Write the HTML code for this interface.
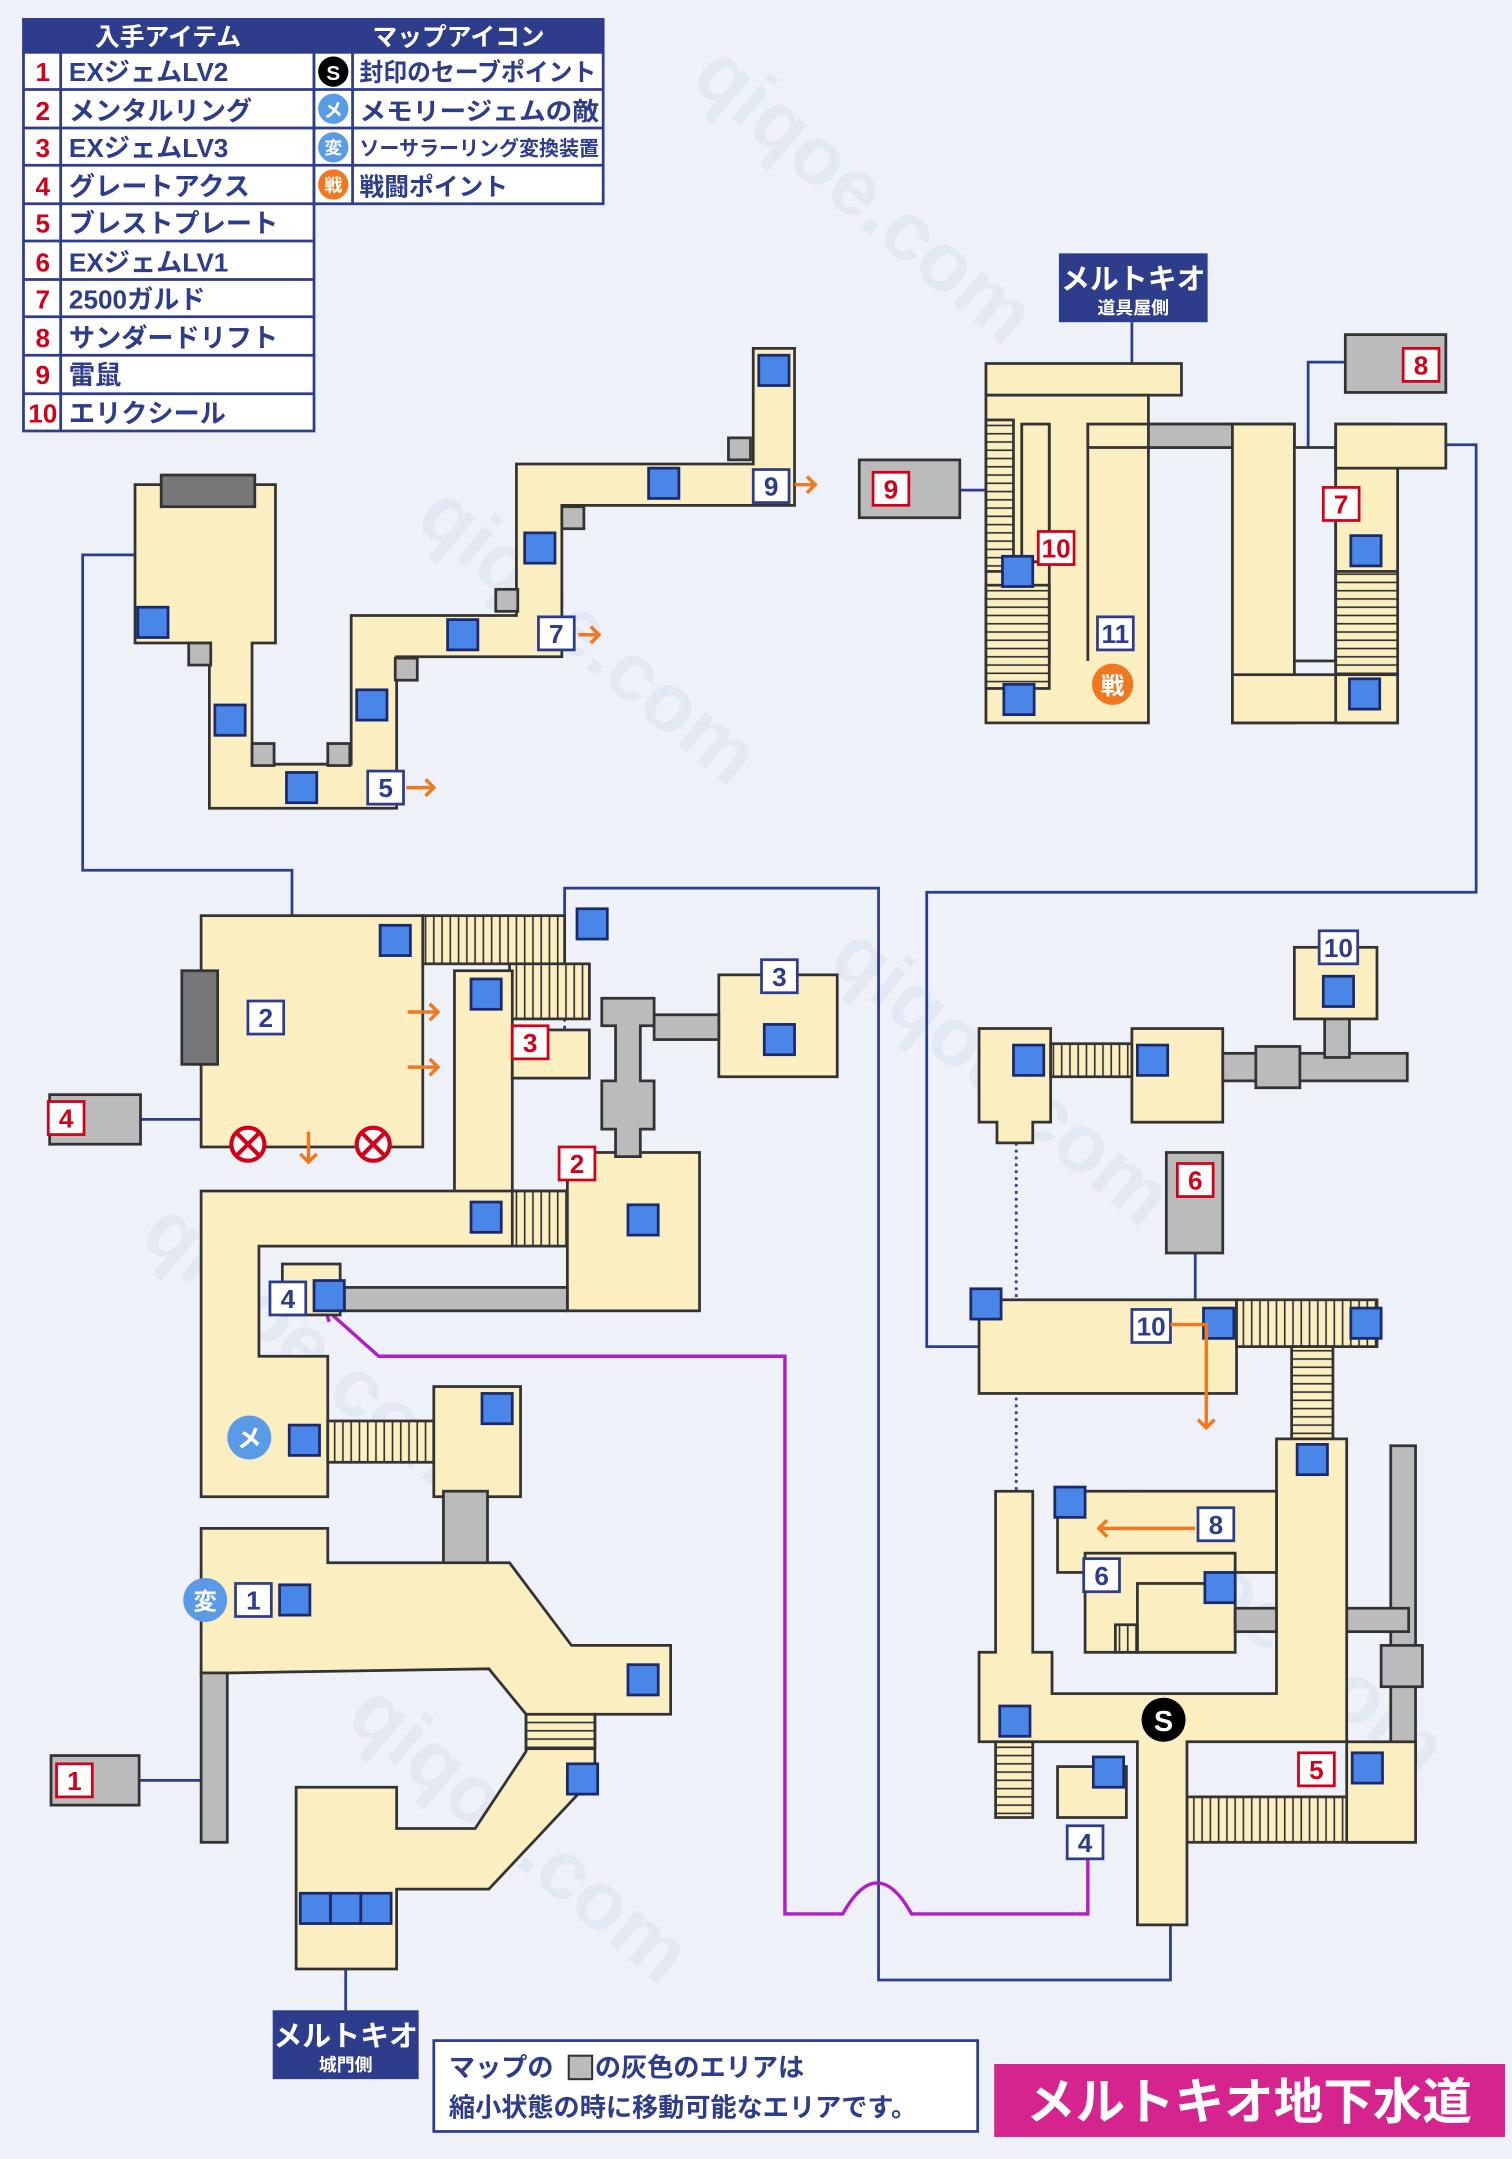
<!DOCTYPE html>
<html><head><meta charset="utf-8"><style>
html,body{margin:0;padding:0;background:#eef2f8}
svg{display:block}
text{font-family:"Liberation Sans","Noto Sans CJK JP",sans-serif;font-weight:bold}
</style></head><body>
<svg width="1512" height="2159" viewBox="0 0 1098 1568" xmlns="http://www.w3.org/2000/svg">
<defs>
<g id="bs"><rect x="-11" y="-11" width="22" height="22" fill="#4a86e8" stroke="#1a2a6c" stroke-width="2"/></g>
<pattern id="st" width="6" height="6" patternUnits="userSpaceOnUse"><rect width="6" height="6" fill="#fbeec0"/><line x1="3" y1="0" x2="3" y2="6" stroke="#333" stroke-width="1.2"/></pattern>
<pattern id="sth" width="6" height="6" patternUnits="userSpaceOnUse"><rect width="6" height="6" fill="#fbeec0"/><line x1="0" y1="3" x2="6" y2="3" stroke="#333" stroke-width="1.2"/></pattern>
</defs>
<rect width="1098" height="1568" fill="#eef2f8"/>
<g fill="#dde3ee" font-size="60" opacity="0.6"><text x="500" y="60" transform="rotate(40 500 60)">qiqoe.com</text><text x="300" y="380" transform="rotate(40 300 380)">qiqoe.com</text><text x="600" y="700" transform="rotate(40 600 700)">qiqoe.com</text><text x="100" y="900" transform="rotate(40 100 900)">qiqoe.com</text><text x="800" y="1100" transform="rotate(40 800 1100)">qiqoe.com</text><text x="250" y="1250" transform="rotate(40 250 1250)">qiqoe.com</text></g>

<!-- legend -->
<g stroke="#2e3c8c" stroke-width="2">
<rect x="17" y="14" width="421" height="24" fill="#2e3c8c"/>
<rect x="17" y="38" width="211" height="275" fill="#fff"/>
<rect x="228" y="38" width="210" height="110" fill="#fff"/>
<line x1="44" y1="38" x2="44" y2="313"/>
<g>
<line x1="17" y1="65" x2="438" y2="65"/><line x1="17" y1="93" x2="438" y2="93"/><line x1="17" y1="120" x2="438" y2="120"/>
<line x1="17" y1="148" x2="228" y2="148"/><line x1="17" y1="175" x2="228" y2="175"/><line x1="17" y1="203" x2="228" y2="203"/><line x1="17" y1="230" x2="228" y2="230"/><line x1="17" y1="258" x2="228" y2="258"/><line x1="17" y1="286" x2="228" y2="286"/>
</g>
<line x1="256" y1="38" x2="256" y2="148"/>
</g>
<text x="122" y="33" fill="#fff" font-size="18" text-anchor="middle">入手アイテム</text>
<text x="333" y="33" fill="#fff" font-size="18" text-anchor="middle">マップアイコン</text>
<g fill="#d0021b" font-size="19" text-anchor="middle">
<text x="31" y="59">1</text><text x="31" y="87">2</text><text x="31" y="114">3</text><text x="31" y="142">4</text><text x="31" y="169">5</text><text x="31" y="197">6</text><text x="31" y="224">7</text><text x="31" y="252">8</text><text x="31" y="279">9</text><text x="31" y="307">10</text></g>
<g fill="#2e3c8c" font-size="19">
<text x="50" y="59">EXジェムLV2</text><text x="50" y="87">メンタルリング</text><text x="50" y="114">EXジェムLV3</text><text x="50" y="142">グレートアクス</text><text x="50" y="169">ブレストプレート</text><text x="50" y="197">EXジェムLV1</text><text x="50" y="224">2500ガルド</text><text x="50" y="252">サンダードリフト</text><text x="50" y="279">雷鼠</text><text x="50" y="307">エリクシール</text>
<text x="261" y="59" font-size="18" textLength="172" lengthAdjust="spacingAndGlyphs">封印のセーブポイント</text><text x="261" y="87" font-size="18" textLength="174" lengthAdjust="spacingAndGlyphs">メモリージェムの敵</text><text x="261" y="113" font-size="15" textLength="174" lengthAdjust="spacingAndGlyphs">ソーサラーリング変換装置</text><text x="261" y="142" font-size="18">戦闘ポイント</text></g>
<circle cx="242" cy="52" r="11" fill="#000"/><text x="242" y="58" fill="#fff" font-size="15" text-anchor="middle">S</text>
<circle cx="242" cy="79" r="11" fill="#5a9be8"/><text x="242" y="85" fill="#fff" font-size="14" text-anchor="middle">メ</text>
<circle cx="242" cy="107" r="11" fill="#5a9be8"/><text x="242" y="112" fill="#fff" font-size="13" text-anchor="middle">変</text>
<circle cx="242" cy="134" r="11" fill="#f07820"/><text x="242" y="139" fill="#fff" font-size="13" text-anchor="middle">戦</text>

<!-- connector lines -->
<g fill="none" stroke="#2e3c8c" stroke-width="2">
<polyline points="110,403 60,403 60,632 212,632 212,682"/>
<polyline points="410,705 410,645 638,645 638,1438 850,1438 850,1398"/>
<polyline points="1030,323 1072,323 1072,648 673,648 673,978 711,978"/>
<line x1="86" y1="813" x2="150" y2="813"/>
<line x1="100" y1="1293" x2="150" y2="1293"/>
<line x1="679" y1="356" x2="802" y2="356"/>
<polyline points="992,263 950,263 950,370 930,370"/>
<line x1="822" y1="234" x2="822" y2="273"/>
<line x1="251" y1="1430" x2="251" y2="1462"/>
<line x1="868" y1="905" x2="868" y2="950"/>
</g>
<g fill="none" stroke="#2e3c8c" stroke-width="2" stroke-dasharray="2,3">
<line x1="410" y1="680" x2="410" y2="760"/>
<line x1="738" y1="815" x2="738" y2="1100"/>
</g>
<path d="M238,952 L275,985 L570,985 L570,1390 L612,1390 Q637,1345 662,1390 L790,1390 L790,1350" fill="none" stroke="#b01ec8" stroke-width="2.5"/>
<path d="M236,950 l10,2 M236,950 l3,10" stroke="#b01ec8" stroke-width="2.5"/>

<g stroke="#333" stroke-width="2">
<!-- top-left map -->
<polygon points="98,352 200,352 200,467 183,467 183,555 255,555 255,447 375,447 375,337 547,337 547,253 577,253 577,367 408,367 408,477 288,477 288,587 152,587 152,467 98,467" fill="#fbeec0"/>
<rect x="117" y="345" width="68" height="23" fill="#777"/>
<g fill="#bbb"><rect x="137" y="467" width="16" height="16"/><rect x="183" y="540" width="16" height="16"/><rect x="238" y="540" width="16" height="16"/><rect x="287" y="478" width="16" height="16"/><rect x="360" y="428" width="16" height="16"/><rect x="408" y="368" width="16" height="16"/><rect x="529" y="318" width="16" height="16"/></g>

<!-- top-right map -->
<rect x="716" y="264" width="142" height="23" fill="#fbeec0"/>
<rect x="716" y="287" width="118" height="238" fill="#fbeec0"/>
<rect x="716" y="305" width="20" height="110" fill="url(#sth)"/>
<rect x="716" y="425" width="46" height="75" fill="url(#sth)"/>
<rect x="742" y="308" width="20" height="100" fill="#fbeec0"/>
<line x1="790" y1="308" x2="790" y2="480"/><line x1="762" y1="308" x2="762" y2="480"/>
<rect x="790" y="308" width="150" height="17" fill="#fbeec0"/>
<rect x="834" y="308" width="61" height="17" fill="#bbb"/>
<rect x="895" y="308" width="45" height="217" fill="#fbeec0"/>
<rect x="895" y="490" width="120" height="35" fill="#fbeec0"/>
<rect x="940" y="325" width="30" height="155" fill="#eef2f8"/>
<rect x="970" y="308" width="45" height="217" fill="#fbeec0"/>
<rect x="970" y="308" width="80" height="32" fill="#fbeec0"/>
<rect x="970" y="415" width="45" height="75" fill="url(#sth)"/>
<rect x="624" y="334" width="73" height="42" fill="#bbb"/>
<rect x="977" y="243" width="73" height="42" fill="#bbb"/>

<!-- mid-left -->
<rect x="146" y="665" width="161" height="168" fill="#fbeec0"/>
<rect x="132" y="705" width="26" height="68" fill="#777"/>
<rect x="307" y="665" width="103" height="35" fill="url(#st)"/>
<rect x="370" y="700" width="58" height="40" fill="url(#st)"/>
<rect x="330" y="705" width="42" height="165" fill="#fbeec0"/>
<rect x="372" y="748" width="56" height="35" fill="#fbeec0"/>
<polygon points="146,865 412,865 412,905 188,905 188,985 238,985 238,1087 146,1087" fill="#fbeec0"/>
<rect x="372" y="865" width="80" height="40" fill="url(#st)"/>
<rect x="412" y="837" width="96" height="115" fill="#fbeec0"/>
<rect x="250" y="935" width="162" height="17" fill="#bbb"/>
<rect x="205" y="918" width="42" height="37" fill="#fbeec0"/>
<rect x="238" y="1032" width="77" height="30" fill="url(#st)"/>
<rect x="315" y="1007" width="63" height="80" fill="#fbeec0"/>
<rect x="322" y="1083" width="32" height="57" fill="#bbb"/>
<rect x="522" y="708" width="86" height="74" fill="#fbeec0"/>
<rect x="475" y="737" width="47" height="18" fill="#bbb"/>
<polygon points="437,725 475,725 475,745 465,745 465,785 475,785 475,820 465,820 465,840 447,840 447,820 437,820 437,785 447,785 447,745 437,745" fill="#bbb"/>
<rect x="36" y="795" width="66" height="36" fill="#bbb"/>

<!-- lower-left -->
<polygon points="146,1110 238,1110 238,1135 370,1135 415,1195 487,1195 487,1245 432,1245 432,1290 355,1372 288,1372 288,1430 215,1430 215,1298 288,1298 288,1328 345,1328 382,1272 382,1245 355,1212 165,1215 146,1215" fill="#fbeec0"/>
<rect x="382" y="1245" width="50" height="25" fill="url(#sth)"/>
<rect x="146" y="1215" width="19" height="123" fill="#bbb"/>
<rect x="37" y="1275" width="64" height="36" fill="#bbb"/>

<!-- right top -->
<polygon points="711,747 763,747 763,815 750,815 750,830 724,830 724,815 711,815" fill="#fbeec0"/>
<rect x="763" y="758" width="59" height="24" fill="url(#st)"/>
<rect x="822" y="747" width="66" height="68" fill="#fbeec0"/>
<rect x="888" y="765" width="134" height="20" fill="#bbb"/>
<rect x="912" y="760" width="32" height="30" fill="#bbb"/>
<rect x="962" y="738" width="18" height="30" fill="#bbb"/>
<rect x="940" y="688" width="60" height="52" fill="#fbeec0"/>
<rect x="847" y="837" width="41" height="73" fill="#bbb"/>
<rect x="711" y="944" width="187" height="68" fill="#fbeec0"/>
<rect x="898" y="944" width="102" height="34" fill="url(#st)"/>
<rect x="938" y="978" width="30" height="67" fill="url(#sth)"/>

<!-- right bottom -->
<rect x="1010" y="1050" width="18" height="230" fill="#bbb"/>
<rect x="978" y="1168" width="45" height="17" fill="#bbb"/>
<rect x="1003" y="1195" width="30" height="30" fill="#bbb"/>
<rect x="862" y="1305" width="166" height="33" fill="url(#st)"/>
<rect x="978" y="1265" width="50" height="73" fill="#fbeec0"/>
<polygon points="723,1083 750,1083 750,1200 764,1200 764,1230 927,1230 927,1045 978,1045 978,1265 862,1265 862,1398 826,1398 826,1265 711,1265 711,1200 723,1200" fill="#fbeec0"/>
<rect x="768" y="1083" width="159" height="59" fill="#fbeec0"/>
<rect x="788" y="1128" width="109" height="72" fill="#fbeec0"/>
<rect x="826" y="1150" width="71" height="50" fill="#fbeec0"/>
<rect x="897" y="1168" width="30" height="17" fill="#bbb"/>
<rect x="810" y="1180" width="16" height="20" fill="url(#st)"/>
<rect x="723" y="1265" width="27" height="55" fill="url(#sth)"/>
<rect x="768" y="1283" width="50" height="37" fill="#fbeec0"/>
</g>

<!-- blue squares -->
<g>
<use href="#bs" x="562" y="269"/><use href="#bs" x="482" y="351"/><use href="#bs" x="392" y="398"/><use href="#bs" x="336" y="461"/><use href="#bs" x="270" y="512"/><use href="#bs" x="219" y="572"/><use href="#bs" x="167" y="523"/><use href="#bs" x="111" y="452"/>
<use href="#bs" x="739" y="415"/><use href="#bs" x="740" y="508"/><use href="#bs" x="992" y="400"/><use href="#bs" x="991" y="504"/>
<use href="#bs" x="287" y="683"/><use href="#bs" x="430" y="671"/><use href="#bs" x="353" y="722"/><use href="#bs" x="566" y="755"/><use href="#bs" x="353" y="884"/><use href="#bs" x="467" y="886"/><use href="#bs" x="239" y="941"/><use href="#bs" x="221" y="1046"/><use href="#bs" x="361" y="1023"/>
<use href="#bs" x="214" y="1162"/><use href="#bs" x="467" y="1220"/><use href="#bs" x="423" y="1292"/><use href="#bs" x="229" y="1386"/><use href="#bs" x="251" y="1386"/><use href="#bs" x="273" y="1386"/>
<use href="#bs" x="972" y="720"/><use href="#bs" x="747" y="770"/><use href="#bs" x="837" y="770"/><use href="#bs" x="716" y="947"/><use href="#bs" x="885" y="961"/><use href="#bs" x="992" y="961"/><use href="#bs" x="953" y="1060"/><use href="#bs" x="777" y="1091"/><use href="#bs" x="886" y="1153"/><use href="#bs" x="737" y="1250"/><use href="#bs" x="805" y="1287"/><use href="#bs" x="993" y="1284"/>
</g>

<!-- number labels -->
<g font-size="19" text-anchor="middle">
<g stroke-width="2" fill="#fff" stroke="#2e3c8c">
<rect x="547" y="341" width="26" height="24"/><rect x="391" y="448" width="26" height="24"/><rect x="267" y="560" width="26" height="24"/><rect x="797" y="448" width="26" height="24"/>
<rect x="180" y="727" width="26" height="24"/><rect x="553" y="697" width="26" height="24"/><rect x="196" y="931" width="26" height="24"/><rect x="171" y="1150" width="26" height="24"/><rect x="958" y="676" width="28" height="24"/><rect x="822" y="951" width="28" height="24"/><rect x="870" y="1095" width="26" height="24"/><rect x="787" y="1132" width="26" height="24"/><rect x="775" y="1326" width="26" height="24"/>
</g>
<g stroke-width="2" fill="#fff" stroke="#d0021b">
<rect x="1019" y="253" width="26" height="24"/><rect x="634" y="343" width="26" height="24"/><rect x="961" y="354" width="26" height="24"/><rect x="754" y="386" width="26" height="24"/>
<rect x="372" y="745" width="26" height="24"/><rect x="406" y="833" width="26" height="24"/><rect x="35" y="800" width="26" height="24"/><rect x="41" y="1281" width="26" height="24"/><rect x="855" y="845" width="26" height="24"/><rect x="943" y="1273" width="26" height="24"/>
</g>
<g fill="#2e3c8c"><text x="560" y="360">9</text><text x="404" y="467">7</text><text x="280" y="579">5</text><text x="810" y="467">11</text><text x="193" y="746">2</text><text x="566" y="716">3</text><text x="209" y="950">4</text><text x="184" y="1169">1</text><text x="972" y="695">10</text><text x="836" y="970">10</text><text x="883" y="1114">8</text><text x="800" y="1151">6</text><text x="788" y="1345">4</text></g>
<g fill="#d0021b"><text x="1032" y="272">8</text><text x="647" y="362">9</text><text x="974" y="373">7</text><text x="767" y="405">10</text><text x="385" y="764">3</text><text x="419" y="852">2</text><text x="48" y="819">4</text><text x="54" y="1300">1</text><text x="868" y="864">6</text><text x="956" y="1292">5</text></g>
</g>

<!-- arrows -->
<g stroke="#f07820" stroke-width="2.5" fill="none">
<path d="M577,352 h15 m-6,-6 l6,6 -6,6"/><path d="M420,461 h15 m-6,-6 l6,6 -6,6"/><path d="M295,572 h20 m-6,-6 l6,6 -6,6"/>
<path d="M296,735 h22 m-6,-6 l6,6 -6,6"/><path d="M296,775 h22 m-6,-6 l6,6 -6,6"/><path d="M224,822 v22 m-6,-6 l6,6 6,-6"/>
<path d="M850,962 h26 v75 m-6,-6 l6,6 6,-6"/><path d="M868,1110 h-70 m6,-6 l-6,6 6,6"/>
</g>
<g stroke="#d0021b" stroke-width="3"><circle cx="180" cy="831" r="12" fill="#fff"/><path d="M172,823 l16,16 M188,823 l-16,16"/><circle cx="271" cy="831" r="12" fill="#fff"/><path d="M263,823 l16,16 M279,823 l-16,16"/></g>
<circle cx="808" cy="497" r="15" fill="#f07820"/><text x="808" y="504" fill="#fff" font-size="17" text-anchor="middle">戦</text>
<circle cx="181" cy="1044" r="16" fill="#5a9be8"/><text x="181" y="1051" fill="#fff" font-size="18" text-anchor="middle">メ</text>
<circle cx="149" cy="1162" r="16" fill="#5a9be8"/><text x="149" y="1169" fill="#fff" font-size="17" text-anchor="middle">変</text>
<circle cx="845" cy="1249" r="16" fill="#000"/><text x="845" y="1257" fill="#fff" font-size="21" text-anchor="middle">S</text>

<!-- place labels -->
<rect x="769" y="184" width="108" height="50" fill="#2e3c8c"/>
<text x="823" y="210" fill="#fff" font-size="21" text-anchor="middle">メルトキオ</text>
<text x="823" y="228" fill="#fff" font-size="13" text-anchor="middle">道具屋側</text>
<rect x="198" y="1460" width="106" height="50" fill="#2e3c8c"/>
<text x="251" y="1486" fill="#fff" font-size="21" text-anchor="middle">メルトキオ</text>
<text x="251" y="1504" fill="#fff" font-size="13" text-anchor="middle">城門側</text>
<rect x="315" y="1482" width="395" height="66" fill="#fff" stroke="#2e3c8c" stroke-width="2"/>
<text x="326" y="1508" fill="#2e3c8c" font-size="19">マップの</text>
<rect x="413" y="1493" width="17" height="17" fill="#bbb" stroke="#333" stroke-width="1.5"/>
<text x="432" y="1508" fill="#2e3c8c" font-size="19">の灰色のエリアは</text>
<text x="326" y="1537" fill="#2e3c8c" font-size="19">縮小状態の時に移動可能なエリアです。</text>
<rect x="722" y="1499" width="371" height="53" fill="#d6248f"/>
<text x="907" y="1539" fill="#fff" font-size="36" text-anchor="middle">メルトキオ地下水道</text>
</svg>
</body></html>
